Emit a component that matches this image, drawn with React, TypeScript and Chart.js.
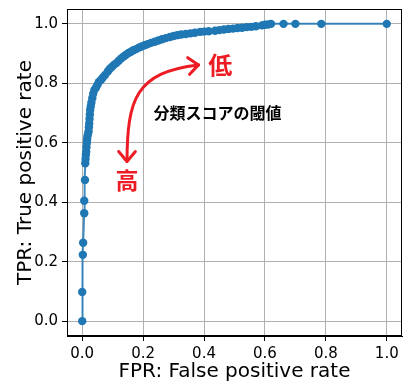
import React, { useEffect, useRef } from "react";
import { Chart, registerables } from "chart.js";

Chart.register(...registerables);

// ROC curve points (FPR, TPR)
const FPR = [
  0, 0, 0.002, 0.003, 0.0066, 0.0066, 0.009, 0.01, 0.011, 0.012, 0.013, 0.014, 0.015, 0.016, 0.017,
  0.019, 0.021, 0.022, 0.023, 0.024, 0.025, 0.026, 0.028, 0.03, 0.033, 0.036, 0.04, 0.045, 0.05,
  0.055, 0.062, 0.068, 0.075, 0.084, 0.09, 0.097, 0.104, 0.112, 0.12, 0.128, 0.136, 0.144, 0.152,
  0.16, 0.168, 0.177, 0.186, 0.195, 0.205, 0.215, 0.226, 0.238, 0.25, 0.262, 0.275, 0.288, 0.3,
  0.312, 0.325, 0.34, 0.355, 0.37, 0.387, 0.4, 0.415, 0.436, 0.45, 0.465, 0.48, 0.495, 0.51, 0.525,
  0.54, 0.555, 0.57, 0.59, 0.6, 0.61, 0.62, 0.661, 0.7, 0.785, 1.0,
];
const TPR = [
  0, 0.098, 0.223, 0.264, 0.363, 0.405, 0.475, 0.531, 0.545, 0.56, 0.57, 0.585, 0.599, 0.61, 0.621,
  0.63, 0.638, 0.652, 0.665, 0.68, 0.695, 0.71, 0.722, 0.735, 0.75, 0.765, 0.778, 0.785, 0.795,
  0.805, 0.812, 0.82, 0.828, 0.84, 0.848, 0.855, 0.862, 0.868, 0.876, 0.884, 0.89, 0.896, 0.902,
  0.906, 0.911, 0.915, 0.92, 0.924, 0.928, 0.932, 0.936, 0.94, 0.944, 0.948, 0.952, 0.956, 0.959,
  0.962, 0.964, 0.966, 0.968, 0.97, 0.973, 0.974, 0.975, 0.977, 0.979, 0.981, 0.983, 0.984, 0.986,
  0.987, 0.989, 0.99, 0.992, 0.995, 0.997, 0.998, 1.0, 1.0, 1.0, 1.0, 1.0,
];

const X_TICKS = [0, 0.2, 0.4, 0.6, 0.8, 1.0];
const Y_TICKS = [0, 0.2, 0.4, 0.6, 0.8, 1.0];

const X_TITLE = "FPR: False positive rate";
const Y_TITLE = "TPR: True positive rate";

// annotation texts and anchors (data coordinates)
const LABEL_THRESHOLD = "分類スコアの閾値";
const LABEL_THRESHOLD_POS = [0.234, 0.7];
const LABEL_LOW = "低";
const LABEL_LOW_POS = [0.453, 0.862];
const LABEL_HIGH = "高";
const LABEL_HIGH_POS = [0.147, 0.475];
// cubic bezier arrow: start(bottom tip), c1, c2, end(top tip)
const ARROW_PTS = [
  [0.147, 0.537],
  [0.148, 0.744],
  [0.174, 0.838],
  [0.382, 0.862],
];

const BLUE = "#1f77b4";
const RED = "#ed1c24";
const FONT = "DejaVu Sans";
const JP_FONT = "'Noto Sans CJK JP'";

export default function App() {
  const ref = useRef<HTMLCanvasElement | null>(null);

  useEffect(() => {
    const canvas = ref.current;
    if (!canvas) return;

    const framePlugin = {
      id: "frame",
      afterDatasetsDraw(chart: any) {
        const { ctx, chartArea } = chart;
        const xs = chart.scales.x;
        const ys = chart.scales.y;
        ctx.save();
        ctx.strokeStyle = "#000";
        ctx.lineWidth = 1;
        ctx.strokeRect(
          Math.round(chartArea.left) + 0.5,
          Math.round(chartArea.top) + 0.5,
          Math.round(chartArea.right - chartArea.left) - 1,
          Math.round(chartArea.bottom - chartArea.top) - 1
        );

        const px = (p: number[]) => [xs.getPixelForValue(p[0]), ys.getPixelForValue(p[1])];

        // arrow
        const [p0, p1, p2, p3] = ARROW_PTS.map(px);
        ctx.strokeStyle = RED;
        ctx.lineWidth = 3;
        ctx.lineCap = "round";
        ctx.lineJoin = "round";
        ctx.beginPath();
        ctx.moveTo(p0[0], p0[1]);
        ctx.bezierCurveTo(p1[0], p1[1], p2[0], p2[1], p3[0], p3[1]);
        ctx.stroke();
        const head = (tip: number[], from: number[]) => {
          const ang = Math.atan2(tip[1] - from[1], tip[0] - from[0]);
          const L = 13;
          const a = (40 * Math.PI) / 180;
          ctx.beginPath();
          ctx.moveTo(tip[0] - L * Math.cos(ang - a), tip[1] - L * Math.sin(ang - a));
          ctx.lineTo(tip[0], tip[1]);
          ctx.lineTo(tip[0] - L * Math.cos(ang + a), tip[1] - L * Math.sin(ang + a));
          ctx.stroke();
        };
        head(p0, p1);
        head(p3, p2);

        // texts
        ctx.fillStyle = RED;
        ctx.textAlign = "center";
        ctx.textBaseline = "middle";
        ctx.font = `bold 24px ${JP_FONT}`;
        const lo = px(LABEL_LOW_POS);
        ctx.fillText(LABEL_LOW, lo[0], lo[1]);
        ctx.font = `bold 23px ${JP_FONT}`;
        const hi = px(LABEL_HIGH_POS);
        ctx.fillText(LABEL_HIGH, hi[0], hi[1]);
        ctx.fillStyle = "#000";
        ctx.textAlign = "left";
        ctx.font = `bold 16px ${JP_FONT}`;
        const th = px(LABEL_THRESHOLD_POS);
        ctx.fillText(LABEL_THRESHOLD, th[0], th[1]);
        ctx.restore();
      },
    };

    const chart = new Chart(canvas, {
      type: "scatter",
      data: {
        datasets: [
          {
            data: FPR.map((x, i) => ({ x, y: TPR[i] })),
            showLine: true,
            borderColor: "rgba(31,119,180,0.85)",
            borderWidth: 2,
            backgroundColor: BLUE,
            pointBackgroundColor: BLUE,
            pointBorderColor: BLUE,
            pointBorderWidth: 0,
            pointRadius: 4.2,
            pointHoverRadius: 4.2,
            tension: 0,
          },
        ],
      },
      plugins: [framePlugin],
      options: {
        responsive: false,
        animation: false,
        events: [],
        layout: { padding: { left: 0, right: 12, top: 9, bottom: 0 } },
        plugins: { legend: { display: false }, tooltip: { enabled: false } },
        scales: {
          x: {
            type: "linear",
            min: -0.05,
            max: 1.05,
            afterBuildTicks: (s: any) => {
              s.ticks = X_TICKS.map((v) => ({ value: v }));
            },
            afterFit: (s: any) => {
              s.height = 52;
              s.paddingLeft = 0;
              s.paddingRight = 0;
            },
            ticks: {
              color: "#000",
              font: { family: FONT, size: 15 },
              padding: 4,
              maxRotation: 0,
              autoSkip: false,
              callback: (v: any) => Number(v).toFixed(1),
            },
            grid: { color: "#b0b0b0", lineWidth: 1, tickColor: "#000", tickLength: 5 },
            border: { color: "#000", width: 1 },
            title: {
              display: true,
              text: X_TITLE,
              color: "#000",
              font: { family: FONT, size: 20 },
              padding: { top: 0, bottom: 4 },
            },
          },
          y: {
            type: "linear",
            min: -0.05,
            max: 1.05,
            afterBuildTicks: (s: any) => {
              s.ticks = Y_TICKS.map((v) => ({ value: v }));
            },
            afterFit: (s: any) => {
              s.width = 67;
              s.paddingTop = 0;
              s.paddingBottom = 0;
            },
            ticks: {
              color: "#000",
              font: { family: FONT, size: 15 },
              padding: 4,
              autoSkip: false,
              callback: (v: any) => Number(v).toFixed(1),
            },
            grid: { color: "#b0b0b0", lineWidth: 1, tickColor: "#000", tickLength: 5 },
            border: { color: "#000", width: 1 },
            title: {
              display: true,
              text: Y_TITLE,
              color: "#000",
              font: { family: FONT, size: 20 },
              padding: { top: 14, bottom: 0 },
            },
          },
        },
      },
    });
    return () => chart.destroy();
  }, []);

  return (
    <div style={{ position: "absolute", left: 0, top: 0, width: 414, height: 388, background: "#fff" }}>
      <canvas ref={ref} width={414} height={388} style={{ display: "block" }} />
    </div>
  );
}
